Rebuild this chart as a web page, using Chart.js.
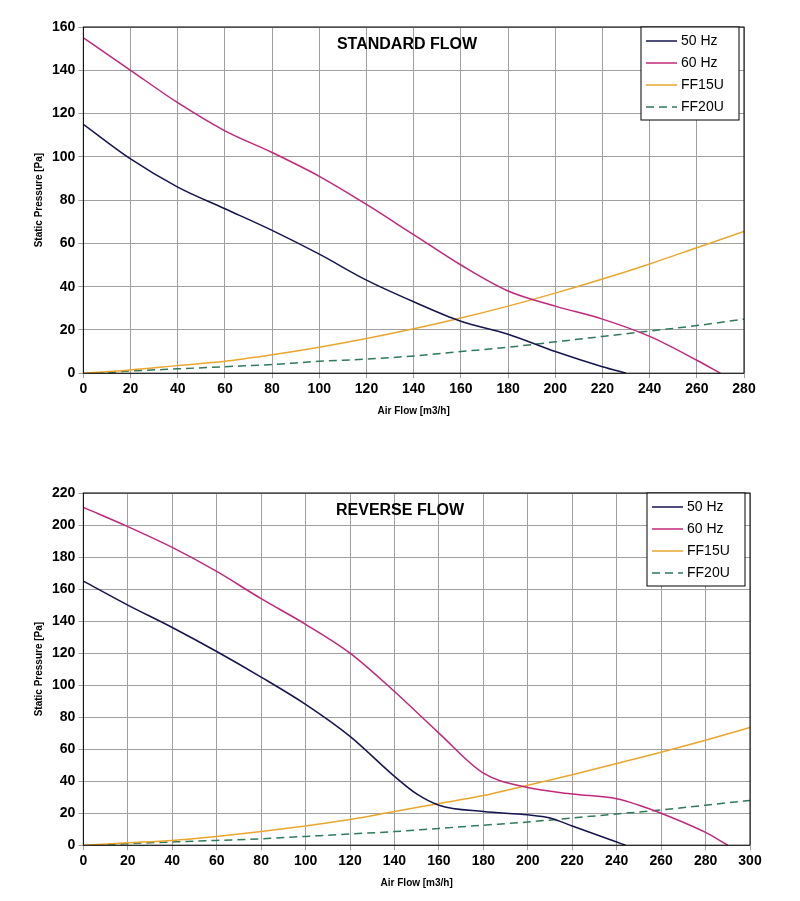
<!DOCTYPE html>
<html>
<head>
<meta charset="utf-8">
<script src="https://cdn.jsdelivr.net/npm/chart.js@4"></script>
<style>
body { margin: 0; background: #fff; }
.box { position: absolute; left: 0; width: 800px; }
</style>
</head>
<body>
<div class="box" style="top:0;height:421px"><canvas id="c1"></canvas></div>
<div class="box" style="top:466px;height:427px"><canvas id="c2"></canvas></div>
<script>
const std50x = [0, 20, 40, 60, 80, 100, 120, 140, 160, 180, 200, 220, 230];
const std50y = [115, 99, 86, 76, 66, 55, 43, 33, 24, 18, 10, 3, 0];
const std60x = [0, 20, 40, 60, 80, 100, 120, 140, 160, 180, 200, 220, 240, 260, 270];
const std60y = [155, 140, 125, 112, 102, 91, 78, 64, 50, 38, 31, 25, 17, 6, 0];
const stdF15x = [0, 20, 40, 60, 80, 100, 120, 140, 160, 180, 200, 220, 240, 260, 280];
const stdF15y = [0, 1.5, 3.5, 5.5, 8.5, 12, 16, 20.5, 25.5, 31, 37, 43.5, 50.5, 58, 65.5];
const stdF20x = [5, 20, 40, 60, 80, 100, 120, 140, 160, 180, 200, 220, 240, 260, 280];
const stdF20y = [0, 1, 2, 3, 4, 5.5, 6.5, 8, 10, 12, 14.5, 17, 19.5, 22, 25];

const rev50x = [0, 20, 40, 60, 80, 100, 120, 140, 150, 160, 180, 200, 210, 220, 240, 244];
const rev50y = [165, 150, 136, 121, 105, 88, 68, 43, 32, 25, 21, 19, 17, 12, 2, 0];
const rev60x = [0, 20, 40, 60, 80, 100, 120, 140, 160, 180, 200, 220, 240, 250, 260, 280, 290];
const rev60y = [211, 199, 186, 171, 154, 138, 120, 96, 70, 45, 36, 32, 29, 25, 20, 8, 0];
const revF15x = [0, 20, 40, 60, 80, 100, 120, 140, 160, 180, 200, 220, 240, 260, 280, 300];
const revF15y = [0, 1.5, 3, 5.5, 8.5, 12, 16, 21, 26, 31, 37.5, 44, 51, 58, 65.5, 73.5];
const revF20x = [5, 20, 40, 60, 80, 100, 120, 140, 160, 180, 200, 220, 240, 260, 280, 300];
const revF20y = [0, 1, 2, 3, 4, 5.5, 7, 8.5, 10.5, 12.5, 14.5, 17, 19.5, 22, 25, 28];

const names = ['50 Hz', '60 Hz', 'FF15U', 'FF20U'];
const colors = ['#14144f', '#c2277a', '#eaa62c', '#2f7a58'];

const pts = (xs, ys) => xs.map((x, i) => ({ x: x, y: ys[i] }));

const overlay = {
    id: 'overlay',
    afterDraw(chart, args, opts) {
        const ctx = chart.ctx;
        const a = chart.chartArea;
        ctx.save();
        ctx.strokeStyle = '#000';
        ctx.lineWidth = 1;
        ctx.strokeRect(a.left, a.top, a.right - a.left, a.bottom - a.top);
        ctx.fillStyle = '#000';
        ctx.font = 'bold 16px Arial, "Liberation Sans"';
        ctx.textAlign = 'center';
        ctx.fillText(opts.title, opts.titleX, a.top + 22);
        // legend box
        const w = 98, h = 93, x0 = a.right - w - 5, y0 = a.top;
        ctx.fillStyle = '#fff';
        ctx.fillRect(x0, y0, w, h);
        ctx.strokeRect(x0, y0, w, h);
        ctx.font = '14px Arial, "Liberation Sans"';
        ctx.textAlign = 'left';
        ctx.textBaseline = 'middle';
        names.forEach((n, i) => {
            const y = y0 + 14 + i * 22;
            ctx.strokeStyle = colors[i];
            ctx.lineWidth = 1.5;
            ctx.setLineDash(i === 3 ? [8, 5] : []);
            ctx.beginPath();
            ctx.moveTo(x0 + 5, y);
            ctx.lineTo(x0 + 36, y);
            ctx.stroke();
            ctx.fillStyle = '#000';
            ctx.fillText(n, x0 + 40, y);
        });
        ctx.restore();
    }
};

function makeChart(id, series, xmax, ymax, title, titleX, padRight) {
    new Chart(document.getElementById(id), {
        type: 'line',
        data: {
            datasets: series.map((s, i) => ({
                label: names[i],
                data: s,
                borderColor: colors[i],
                borderWidth: 1.5,
                borderDash: i === 3 ? [8, 5] : [],
                pointRadius: 0,
                tension: 0.4,
                cubicInterpolationMode: 'monotone',
                fill: false
            }))
        },
        options: {
            responsive: true,
            maintainAspectRatio: false,
            animation: false,
            layout: { padding: { top: 27, right: padRight, left: 29 } },
            scales: {
                x: {
                    type: 'linear', min: 0, max: xmax,
                    ticks: { stepSize: 20, color: '#000', font: { size: 14, weight: 'bold', family: 'Arial' } },
                    grid: { color: '#a0a0a0', drawTicks: true, tickLength: 5 },
                    title: { display: true, text: 'Air Flow [m3/h]', color: '#000', font: { size: 10, weight: 'bold', family: 'Arial' } }
                },
                y: {
                    min: 0, max: ymax,
                    ticks: { stepSize: 20, color: '#000', font: { size: 14, weight: 'bold', family: 'Arial' } },
                    grid: { color: '#a0a0a0', tickLength: 5 },
                    title: { display: true, text: 'Static Pressure [Pa]', color: '#000', font: { size: 10, weight: 'bold', family: 'Arial' } }
                }
            },
            plugins: {
                legend: { display: false },
                tooltip: { enabled: false },
                overlay: { title: title, titleX: titleX }
            }
        },
        plugins: [overlay]
    });
}

makeChart('c1', [pts(std50x, std50y), pts(std60x, std60y), pts(stdF15x, stdF15y), pts(stdF20x, stdF20y)], 280, 160, 'STANDARD FLOW', 407, 56);
makeChart('c2', [pts(rev50x, rev50y), pts(rev60x, rev60y), pts(revF15x, revF15y), pts(revF20x, revF20y)], 300, 220, 'REVERSE FLOW', 400, 50);
</script>
</body>
</html>
